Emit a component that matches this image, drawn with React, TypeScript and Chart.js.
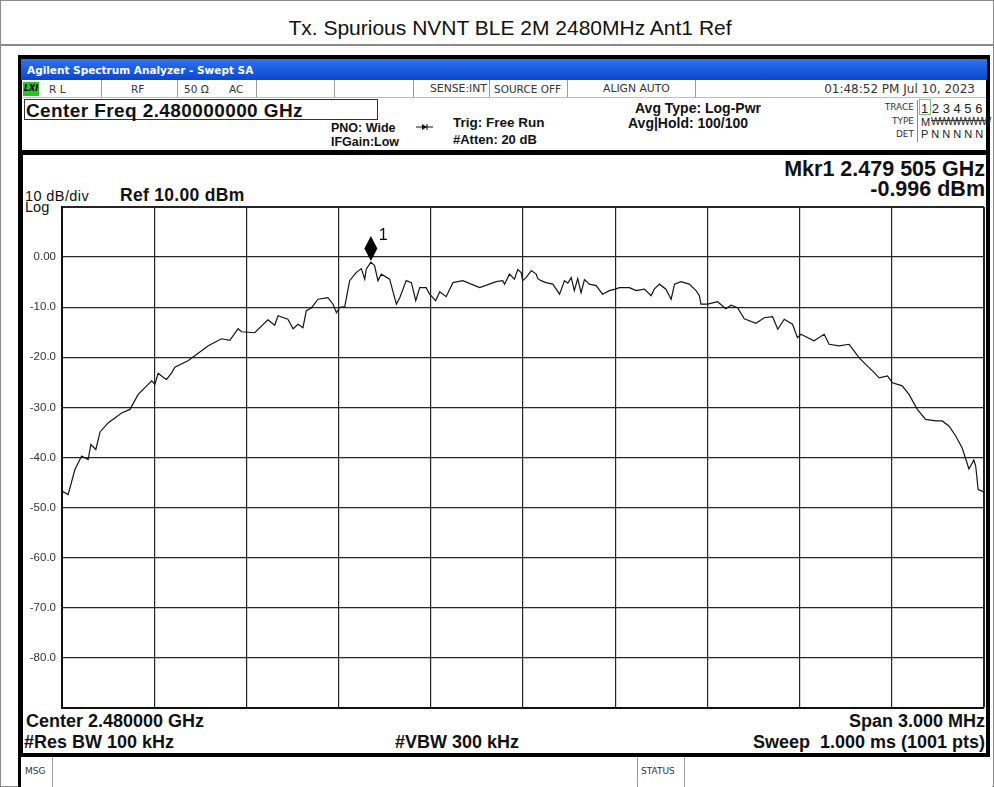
import React, { useEffect, useRef } from 'react';
import { Chart, registerables } from 'chart.js';

Chart.register(...registerables);

// ---- Data ----
const freqMHz = [
  2478.500, 2478.520, 2478.542, 2478.564, 2478.585, 2478.594, 2478.610, 2478.624, 2478.650, 2478.694,
  2478.721, 2478.748, 2478.792, 2478.802, 2478.813, 2478.829, 2478.840, 2478.857, 2478.867, 2478.910,
  2478.932, 2478.976, 2479.019, 2479.046, 2479.073, 2479.084, 2479.127, 2479.170, 2479.192, 2479.203,
  2479.235, 2479.252, 2479.268, 2479.284, 2479.295, 2479.312, 2479.333, 2479.365, 2479.382, 2479.393,
  2479.404, 2479.420, 2479.436, 2479.457, 2479.474, 2479.485, 2479.490, 2479.505, 2479.517, 2479.528,
  2479.539, 2479.566, 2479.588, 2479.599, 2479.620, 2479.637, 2479.651, 2479.664, 2479.685, 2479.696,
  2479.716, 2479.729, 2479.750, 2479.772, 2479.804, 2479.859, 2479.913, 2479.934, 2479.940, 2479.956,
  2479.972, 2479.983, 2479.994, 2479.999, 2480.010, 2480.027, 2480.043, 2480.048, 2480.059, 2480.075,
  2480.097, 2480.119, 2480.135, 2480.146, 2480.157, 2480.167, 2480.178, 2480.189, 2480.200, 2480.216,
  2480.238, 2480.259, 2480.281, 2480.300, 2480.314, 2480.346, 2480.368, 2480.395, 2480.417, 2480.427,
  2480.444, 2480.465, 2480.482, 2480.493, 2480.514, 2480.541, 2480.563, 2480.574, 2480.579, 2480.601,
  2480.633, 2480.660, 2480.677, 2480.698, 2480.720, 2480.758, 2480.785, 2480.812, 2480.829, 2480.850,
  2480.877, 2480.893, 2480.904, 2480.947, 2480.980, 2480.996, 2481.029, 2481.061, 2481.094, 2481.115,
  2481.137, 2481.159, 2481.186, 2481.202, 2481.234, 2481.256, 2481.283, 2481.310, 2481.343, 2481.364,
  2481.386, 2481.408, 2481.429, 2481.451, 2481.467, 2481.473, 2481.481, 2481.494, 2481.500,
];
const levelDbm = [
  -46.7, -47.4, -42.4, -39.7, -40.4, -37.4, -38.4, -34.9, -33.1, -31.1,
  -30.4, -27.4, -24.7, -25.4, -23.2, -24.0, -24.4, -23.1, -22.0, -20.7,
  -19.7, -17.7, -16.3, -16.6, -14.3, -14.9, -15.1, -12.5, -13.6, -11.7,
  -12.4, -14.3, -13.4, -14.1, -10.7, -10.1, -8.4, -8.1, -9.4, -11.1,
  -10.0, -9.9, -4.7, -3.1, -2.3, -4.4, -2.4, -0.996, -1.7, -4.7,
  -3.4, -4.4, -9.4, -8.1, -4.7, -5.1, -8.7, -6.1, -6.1, -7.4,
  -8.7, -6.9, -7.9, -5.1, -4.7, -6.1, -4.9, -4.7, -5.4, -3.4,
  -4.4, -2.5, -3.1, -4.7, -4.1, -2.7, -3.4, -4.3, -4.7, -5.1,
  -5.4, -7.4, -4.7, -5.2, -4.1, -6.7, -4.3, -7.1, -4.5, -5.4,
  -5.7, -7.4, -6.7, -6.4, -6.1, -6.1, -6.7, -6.4, -7.7, -6.4,
  -5.4, -6.4, -8.4, -5.4, -4.9, -5.4, -6.7, -7.7, -9.4, -9.4,
  -8.9, -10.3, -9.6, -10.1, -12.3, -13.2, -12.1, -11.9, -14.4, -12.4,
  -13.4, -16.1, -15.4, -16.7, -15.4, -17.4, -17.7, -17.4, -20.1, -21.4,
  -22.7, -24.1, -23.7, -25.1, -25.7, -27.4, -30.4, -32.4, -32.7, -32.7,
  -33.7, -35.7, -38.1, -42.3, -40.5, -41.7, -46.4, -46.7, -47.0,
];
const xGridMHz = [2478.5, 2478.8, 2479.1, 2479.4, 2479.7, 2480.0, 2480.3, 2480.6, 2480.9, 2481.2, 2481.5];
const yTickValues = [-90, -80, -70, -60, -50, -40, -30, -20, -10, 0, 10];
const yTickLabels = ['', '-80.0', '-70.0', '-60.0', '-50.0', '-40.0', '-30.0', '-20.0', '-10.0', '0.00', ''];
const markerFreqMHz = 2479.505;
const markerLevelDbm = -0.996;

const W = 994;

function T(props: any) {
  const { x, y, s = 12, w = 400, a = 'left', c = '#000', f, ls, children } = props;
  const style: any = {
    position: 'absolute', top: y - s / 2, fontSize: s, lineHeight: s + 'px', fontWeight: w,
    color: c, whiteSpace: 'pre', fontFamily: f || '"Liberation Sans", Arial, sans-serif',
    letterSpacing: ls ? ls + 'px' : undefined,
  };
  if (a === 'left') style.left = x;
  else if (a === 'right') style.right = W - x;
  else { style.left = x - 400; style.width = 800; style.textAlign = 'center'; }
  return <div style={style}>{children}</div>;
}

function Box(props: any) {
  const { x, y, w, h, bg, style } = props;
  return <div style={{ position: 'absolute', left: x, top: y, width: w, height: h, background: bg, ...(style || {}) }} />;
}

const markerPlugin = {
  id: 'mkr',
  afterDatasetsDraw(chart: any) {
    const { ctx, scales } = chart;
    const px = scales.x.getPixelForValue(markerFreqMHz);
    const py = scales.y.getPixelForValue(markerLevelDbm);
    ctx.save();
    ctx.fillStyle = '#000';
    ctx.beginPath();
    ctx.moveTo(px, py - 1);
    ctx.lineTo(px + 6.5, py - 13.5);
    ctx.lineTo(px, py - 26);
    ctx.lineTo(px - 6.5, py - 13.5);
    ctx.closePath();
    ctx.fill();
    ctx.font = '16px "Liberation Sans", Arial, sans-serif';
    ctx.textBaseline = 'middle';
    ctx.fillText('1', px + 8, py - 26);
    ctx.restore();
  },
};

export default function App() {
  const ref = useRef<HTMLCanvasElement>(null);
  useEffect(() => {
    const points = freqMHz.map((f, i) => ({ x: f, y: levelDbm[i] }));
    const chart = new Chart(ref.current as HTMLCanvasElement, {
      type: 'line',
      data: {
        datasets: [{
          data: points,
          borderColor: '#141414',
          borderWidth: 1.2,
          pointRadius: 0,
          tension: 0,
          fill: false,
        }],
      },
      options: {
        animation: false,
        responsive: false,
        maintainAspectRatio: false,
        layout: { padding: { left: 0, right: 10, top: 7, bottom: 7 } },
        plugins: { legend: { display: false }, tooltip: { enabled: false } },
        scales: {
          x: {
            type: 'linear',
            min: xGridMHz[0],
            max: xGridMHz[xGridMHz.length - 1],
            afterBuildTicks: (s: any) => { s.ticks = xGridMHz.map((v) => ({ value: v })); },
            afterFit: (s: any) => { s.height = 0; s.paddingLeft = 0; s.paddingRight = 0; },
            ticks: { display: false },
            grid: {
              drawTicks: false,
              color: '#262626',
              lineWidth: (c: any) => (c.index === xGridMHz.length - 1 ? 2 : 1.2),
            },
            border: { display: true, color: '#111', width: 2 },
          },
          y: {
            type: 'linear',
            min: yTickValues[0],
            max: yTickValues[yTickValues.length - 1],
            afterBuildTicks: (s: any) => { s.ticks = yTickValues.map((v) => ({ value: v })); },
            afterFit: (s: any) => { s.width = 62; s.paddingTop = 0; s.paddingBottom = 0; },
            ticks: {
              callback: (_v: any, i: number) => yTickLabels[i],
              color: '#333',
              padding: 6,
              font: { family: '"Liberation Sans", Arial, sans-serif', size: 11.5 },
            },
            grid: {
              drawTicks: false,
              color: '#262626',
              lineWidth: (c: any) => (c.index === yTickValues.length - 1 ? 2 : 1.2),
            },
            border: { display: true, color: '#111', width: 2 },
          },
        },
      },
      plugins: [markerPlugin],
    });
    return () => chart.destroy();
  }, []);

  const sep = (x: number, y: number, h: number) => <Box x={x} y={y} w={1} h={h} bg="#9a9a9a" />;
  const small = '"DejaVu Sans", Tahoma, sans-serif';

  return (
    <div style={{ position: 'absolute', left: 0, top: 0, width: W, height: 787, background: '#fff', overflow: 'hidden', fontFamily: '"Liberation Sans", Arial, sans-serif' }}>
      {/* page frame and title */}
      <div style={{ position: 'absolute', left: 0, top: 0, width: W, height: 787, border: '1px solid #8a8a8a', boxSizing: 'border-box' }} />
      <Box x={0} y={44} w={W} h={2} bg="#8a8a8a" />
      <T x={510} y={27} s={21} a="center" c="#111">Tx. Spurious NVNT BLE 2M 2480MHz Ant1 Ref</T>

      {/* analyzer screenshot frame */}
      <Box x={18} y={55} w={972} h={732} bg="#000" />
      <Box x={21} y={59} w={966} h={21} bg="linear-gradient(#2f73ee, #0a47cf)" />
      <T x={27} y={70} s={10.5} w={700} c="#fff" f={small}>Agilent Spectrum Analyzer - Swept SA</T>

      {/* status row + header */}
      <Box x={22} y={80} w={964} h={70} bg="#fff" />
      <Box x={22} y={97} w={964} h={1} bg="#bdbdbd" />
      <Box x={23} y={82} w={16} h={14} bg="#27c427" />
      <T x={24} y={89} s={8} w={700} c="#000" f={small}><i>LXI</i></T>
      <T x={49} y={89} s={10.5} c="#333" f={small}>R L</T>
      {sep(101, 80, 17)}
      <T x={131} y={89} s={10.5} c="#333" f={small}>RF</T>
      {sep(177, 80, 17)}
      <T x={184} y={89} s={10.5} c="#333" f={small}>50 Ω</T>
      <T x={229} y={89} s={10.5} c="#333" f={small}>AC</T>
      {sep(256, 80, 17)}
      {sep(334, 80, 17)}
      {sep(413, 80, 17)}
      <T x={430} y={89} s={10.8} c="#333" f={small}>SENSE:INT</T>
      {sep(489, 80, 17)}
      <T x={494} y={89} s={10.5} c="#333" f={small}>SOURCE OFF</T>
      {sep(567, 80, 17)}
      <T x={603} y={89} s={10.8} c="#333" f={small}>ALIGN AUTO</T>
      {sep(695, 80, 17)}
      <T x={975} y={89} s={12} a="right" c="#333" f={small}>01:48:52 PM Jul 10, 2023</T>

      <div style={{ position: 'absolute', left: 24, top: 99, width: 354, height: 21, border: '1px solid #333', boxSizing: 'border-box' }} />
      <T x={26} y={110} s={19} w={700} c="#111" ls={0.4}>Center Freq 2.480000000 GHz</T>
      <T x={331} y={128} s={12.5} w={700} c="#111">PNO: Wide</T>
      <T x={331} y={142} s={12.5} w={700} c="#111">IFGain:Low</T>
      <svg style={{ position: 'absolute', left: 416, top: 123 }} width={18} height={8}>
        <line x1={0} y1={4} x2={17} y2={4} stroke="#111" strokeWidth={1} />
        <polygon points="6,1 11,4 6,7" fill="#111" />
        <line x1={11} y1={1} x2={11} y2={7} stroke="#111" strokeWidth={1} />
      </svg>
      <T x={453} y={123} s={13.5} w={700} c="#111">Trig: Free Run</T>
      <T x={453} y={139} s={13} w={700} c="#111">#Atten: 20 dB</T>
      <T x={635} y={108} s={14} w={700} c="#111">Avg Type: Log-Pwr</T>
      <T x={628} y={123} s={14} w={700} c="#111">Avg|Hold: 100/100</T>

      <T x={914} y={107} s={9} a="right" c="#333" f={small}>TRACE</T>
      <T x={914} y={121} s={9} a="right" c="#333" f={small}>TYPE</T>
      <T x={914} y={134} s={9} a="right" c="#333" f={small}>DET</T>
      <Box x={917} y={100} w={1} h={42} bg="#888" />
      <div style={{ position: 'absolute', left: 919, top: 99, width: 12, height: 16, border: '1px solid #7bc47b', boxSizing: 'border-box' }} />
      <T x={921} y={108} s={13} c="#222">1 2 3 4 5 6</T>
      <T x={921} y={122} s={11} c="#222">M</T>
      <T x={931} y={122} s={10} c="#222" ls={-1}>WWWWWWW</T>
      <Box x={931} y={120} w={54} h={1} bg="#333" />
      <T x={921} y={134} s={11} c="#222">P N N N N N</T>

      {/* plot panel */}
      <Box x={23} y={155} w={963} h={598} bg="#fff" />
      <T x={985} y={170} s={21.5} w={700} a="right" c="#111">Mkr1 2.479 505 GHz</T>
      <T x={985} y={190} s={21.5} w={700} a="right" c="#111">-0.996 dBm</T>
      <T x={25} y={196} s={14.5} c="#111" ls={0.4}>10 dB/div</T>
      <T x={25} y={207} s={14.5} c="#111">Log</T>
      <T x={120} y={196} s={17.5} w={700} c="#111" ls={0.3}>Ref 10.00 dBm</T>

      <T x={26} y={721} s={18} w={700} c="#111">Center 2.480000 GHz</T>
      <T x={24} y={742} s={18} w={700} c="#111">#Res BW 100 kHz</T>
      <T x={395} y={742} s={18} w={700} c="#111">#VBW 300 kHz</T>
      <T x={985} y={721} s={18} w={700} a="right" c="#111">Span 3.000 MHz</T>
      <T x={985} y={742} s={18} w={700} a="right" c="#111">Sweep  1.000 ms (1001 pts)</T>

      {/* message row */}
      <Box x={21} y={757} w={971} h={30} bg="#fff" />
      <T x={25} y={771} s={9} c="#333" f={small}>MSG</T>
      {sep(52, 757, 30)}
      {sep(637, 757, 30)}
      <T x={641} y={771} s={9} c="#333" f={small}>STATUS</T>
      {sep(684, 757, 30)}

      <canvas ref={ref} width={W} height={515} style={{ position: 'absolute', left: 0, top: 200 }} />
    </div>
  );
}
